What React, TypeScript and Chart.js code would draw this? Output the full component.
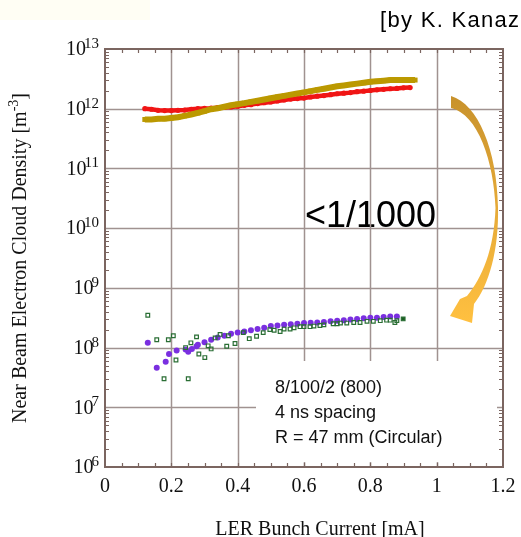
import React, { useEffect, useRef } from "react";
import { Chart, registerables } from "chart.js";

Chart.register(...registerables);

// ---------- data ----------
const X_TICKS = [0, 0.2, 0.4, 0.6, 0.8, 1, 1.2];
const X_TICK_LABELS = ["0", "0.2", "0.4", "0.6", "0.8", "1", "1.2"];
const Y_EXPONENTS = [6, 7, 8, 9, 10, 11, 12, 13];

const redX = [0.12, 0.14, 0.16, 0.18, 0.2, 0.22, 0.24, 0.26, 0.28, 0.3, 0.32, 0.34, 0.36, 0.38, 0.4, 0.42, 0.44, 0.46, 0.48, 0.5, 0.52, 0.54, 0.56, 0.58, 0.6, 0.62, 0.64, 0.66, 0.68, 0.7, 0.72, 0.74, 0.76, 0.78, 0.8, 0.82, 0.84, 0.86, 0.88, 0.9, 0.92];
const redY = [1.0e12, 0.98e12, 0.94e12, 0.93e12, 0.93e12, 0.94e12, 0.95e12, 0.98e12, 1.0e12, 1.01e12, 1.02e12, 1.04e12, 1.05e12, 1.07e12, 1.1e12, 1.14e12, 1.17e12, 1.22e12, 1.26e12, 1.3e12, 1.35e12, 1.4e12, 1.45e12, 1.48e12, 1.51e12, 1.57e12, 1.62e12, 1.66e12, 1.72e12, 1.78e12, 1.82e12, 1.86e12, 1.93e12, 1.97e12, 2.02e12, 2.07e12, 2.11e12, 2.16e12, 2.19e12, 2.24e12, 2.26e12];

const goldX = [0.12, 0.14, 0.16, 0.18, 0.2, 0.22, 0.24, 0.26, 0.28, 0.3, 0.32, 0.34, 0.36, 0.38, 0.4, 0.42, 0.44, 0.46, 0.48, 0.5, 0.52, 0.54, 0.56, 0.58, 0.6, 0.62, 0.64, 0.66, 0.68, 0.7, 0.72, 0.74, 0.76, 0.78, 0.8, 0.82, 0.84, 0.86, 0.88, 0.9, 0.92, 0.935];
const goldY = [6.6e11, 6.6e11, 6.8e11, 6.8e11, 7.0e11, 7.2e11, 7.6e11, 8.0e11, 8.5e11, 9.1e11, 9.8e11, 1.02e12, 1.08e12, 1.14e12, 1.19e12, 1.24e12, 1.3e12, 1.36e12, 1.43e12, 1.5e12, 1.57e12, 1.64e12, 1.72e12, 1.8e12, 1.88e12, 1.97e12, 2.07e12, 2.16e12, 2.26e12, 2.37e12, 2.45e12, 2.54e12, 2.63e12, 2.72e12, 2.82e12, 2.88e12, 2.95e12, 3.02e12, 3.02e12, 3.02e12, 3.02e12, 3.02e12];

const purpleX = [0.129, 0.156, 0.183, 0.193, 0.216, 0.243, 0.251, 0.262, 0.276, 0.28, 0.3, 0.32, 0.34, 0.36, 0.38, 0.4, 0.42, 0.44, 0.46, 0.48, 0.5, 0.52, 0.54, 0.56, 0.58, 0.6, 0.62, 0.64, 0.66, 0.68, 0.7, 0.72, 0.74, 0.76, 0.78, 0.8, 0.82, 0.84, 0.86, 0.88];
const purpleY = [1.2e8, 4.6e7, 5.8e7, 7.8e7, 8.9e7, 9.3e7, 8.5e7, 9.5e7, 1.05e8, 1.12e8, 1.23e8, 1.35e8, 1.48e8, 1.58e8, 1.7e8, 1.78e8, 1.86e8, 1.95e8, 2.04e8, 2.14e8, 2.29e8, 2.34e8, 2.4e8, 2.45e8, 2.51e8, 2.57e8, 2.6e8, 2.63e8, 2.69e8, 2.75e8, 2.82e8, 2.88e8, 2.95e8, 3.02e8, 3.09e8, 3.16e8, 3.16e8, 3.24e8, 3.31e8, 3.31e8];

const greenX = [0.129, 0.156, 0.178, 0.191, 0.206, 0.214, 0.243, 0.251, 0.259, 0.276, 0.283, 0.301, 0.311, 0.32, 0.332, 0.347, 0.367, 0.372, 0.392, 0.417, 0.435, 0.457, 0.477, 0.497, 0.51, 0.528, 0.54, 0.558, 0.57, 0.588, 0.6, 0.618, 0.63, 0.648, 0.66, 0.688, 0.7, 0.71, 0.729, 0.75, 0.769, 0.79, 0.809, 0.83, 0.849, 0.86, 0.874, 0.88, 0.899];
const greenY = [3.47e8, 1.35e8, 3.0e7, 1.35e8, 1.58e8, 6.2e7, 1.0e8, 3.0e7, 1.2e8, 1.51e8, 7.8e7, 6.8e7, 1.07e8, 9.5e7, 1.45e8, 1.66e8, 1.05e8, 1.58e8, 1.17e8, 1.78e8, 1.41e8, 1.55e8, 1.78e8, 2.0e8, 1.95e8, 1.86e8, 2.04e8, 2.04e8, 2.14e8, 2.24e8, 2.24e8, 2.24e8, 2.29e8, 2.34e8, 2.4e8, 2.51e8, 2.51e8, 2.57e8, 2.57e8, 2.63e8, 2.63e8, 2.75e8, 2.75e8, 2.82e8, 2.88e8, 2.88e8, 2.63e8, 2.82e8, 3.02e8];

const zip = (xs: number[], ys: number[]) => xs.map((x, i) => ({ x, y: ys[i] }));

const AXIS = "#7b6560";
const GRID = "#a09290";
const SERIF = "'Liberation Serif', 'Times New Roman', serif";
const SANS = "'Liberation Sans', Arial, Helvetica, sans-serif";

const deco = {
  id: "deco",
  beforeDatasetsDraw(chart: any) {
    const { ctx, chartArea: a, scales } = chart;
    const x = scales.x, y = scales.y;
    ctx.save();
    ctx.fillStyle = "#000";
    ctx.font = `36px ${SANS}`;
    ctx.textAlign = "left";
    ctx.textBaseline = "alphabetic";
    ctx.fillText("<1/1000", 305, 227);
    ctx.strokeStyle = GRID;
    ctx.lineWidth = 1.5;
    ctx.beginPath();
    X_TICKS.slice(1, -1).forEach((v) => {
      const px = Math.round(x.getPixelForValue(v)) + 0.5;
      ctx.moveTo(px, a.top);
      ctx.lineTo(px, a.bottom);
    });
    Y_EXPONENTS.slice(1, -1).forEach((e) => {
      const py = Math.round(y.getPixelForValue(Math.pow(10, e))) + 0.5;
      ctx.moveTo(a.left, py);
      ctx.lineTo(a.right, py);
    });
    ctx.stroke();
    ctx.fillStyle = "#fff";
    ctx.fillRect(256, 361, 241, 101);
    ctx.fillStyle = "#111";
    ctx.font = `18px ${SANS}`;
    ctx.fillText("8/100/2 (800)", 275, 393);
    ctx.fillText("4 ns spacing", 275, 418);
    ctx.fillText("R = 47 mm (Circular)", 275, 443);
    ctx.restore();
  },
  afterDraw(chart: any) {
    const { ctx, chartArea: a, scales } = chart;
    const x = scales.x, y = scales.y;
    ctx.save();
    ctx.strokeStyle = AXIS;
    ctx.lineWidth = 2;
    ctx.strokeRect(a.left, a.top, a.right - a.left, a.bottom - a.top);
    ctx.lineWidth = 1.2;
    ctx.beginPath();
    for (let v = 0.05; v < 1.2; v += 0.05) {
      const px = Math.round(x.getPixelForValue(v)) + 0.5;
      ctx.moveTo(px, a.bottom);
      ctx.lineTo(px, a.bottom - 4);
      ctx.moveTo(px, a.top);
      ctx.lineTo(px, a.top + 4);
    }
    for (let e = 6; e < 13; e++) {
      for (let k = 2; k <= 9; k++) {
        const py = Math.round(y.getPixelForValue(k * Math.pow(10, e))) + 0.5;
        ctx.moveTo(a.left, py);
        ctx.lineTo(a.left + 4, py);
        ctx.moveTo(a.right, py);
        ctx.lineTo(a.right - 4, py);
      }
    }
    ctx.stroke();
    ctx.fillStyle = "#111";
    ctx.font = `20px ${SERIF}`;
    ctx.textAlign = "center";
    ctx.textBaseline = "alphabetic";
    X_TICKS.forEach((v, i) => {
      ctx.fillText(X_TICK_LABELS[i], x.getPixelForValue(v), 492);
    });
    Y_EXPONENTS.forEach((e) => {
      const py = y.getPixelForValue(Math.pow(10, e));
      ctx.font = `15px ${SERIF}`;
      const es = String(e);
      const ew = ctx.measureText(es).width;
      ctx.textAlign = "right";
      ctx.textBaseline = "middle";
      ctx.fillText(es, 99, py - 5);
      ctx.font = `20px ${SERIF}`;
      ctx.fillText("10", 99 - ew + 2, py + 1);
    });
    ctx.font = `20px ${SERIF}`;
    ctx.textAlign = "center";
    ctx.textBaseline = "alphabetic";
    ctx.fillText("LER Bunch Current [mA]", 320, 535);
    ctx.save();
    ctx.translate(26, 258);
    ctx.rotate(-Math.PI / 2);
    const main = "Near Beam Electron Cloud Density [m";
    const sup = "-3";
    const close = "]";
    ctx.font = `20px ${SERIF}`;
    const w1 = ctx.measureText(main).width;
    const w3 = ctx.measureText(close).width;
    ctx.font = `14px ${SERIF}`;
    const w2 = ctx.measureText(sup).width;
    const total = w1 + w2 + w3;
    let sx = -total / 2;
    ctx.textAlign = "left";
    ctx.textBaseline = "alphabetic";
    ctx.font = `20px ${SERIF}`;
    ctx.fillText(main, sx, 0);
    sx += w1;
    ctx.font = `14px ${SERIF}`;
    ctx.fillText(sup, sx, -8);
    sx += w2;
    ctx.font = `20px ${SERIF}`;
    ctx.fillText(close, sx, 0);
    ctx.restore();
    ctx.font = `22px ${SANS}`;
    (ctx as any).letterSpacing = "1.3px";
    ctx.textAlign = "left";
    ctx.fillStyle = "#000";
    ctx.fillText("[by K. Kanazawa]", 380, 27);
    (ctx as any).letterSpacing = "0px";
    const g = ctx.createLinearGradient(0, 96, 0, 322);
    g.addColorStop(0, "#c8922c");
    g.addColorStop(0.5, "#e6aa38");
    g.addColorStop(1, "#ffc040");
    ctx.fillStyle = g;
    ctx.beginPath();
    ctx.moveTo(451, 96);
    ctx.bezierCurveTo(478, 104, 497, 150, 498, 207);
    ctx.bezierCurveTo(499, 250, 489, 285, 474, 304);
    ctx.lineTo(472, 323);
    ctx.lineTo(450, 316);
    ctx.lineTo(460, 299);
    ctx.lineTo(467, 296);
    ctx.bezierCurveTo(482, 278, 494, 250, 495.5, 208);
    ctx.bezierCurveTo(494, 162, 478, 114, 451, 108);
    ctx.closePath();
    ctx.fill();
    ctx.restore();
  },
};

export default function App() {
  const ref = useRef<HTMLCanvasElement | null>(null);
  useEffect(() => {
    if (!ref.current) return;
    const chart = new Chart(ref.current, {
      type: "scatter",
      data: {
        datasets: [
          {
            data: zip(goldX, goldY),
            showLine: true,
            borderColor: "#bb9900",
            borderWidth: 6,
            pointStyle: "rect",
            pointRadius: 3.5,
            pointBackgroundColor: "#bb9900",
            pointBorderWidth: 0,
          },
          {
            data: zip(redX, redY),
            showLine: true,
            borderColor: "#f01515",
            borderWidth: 4.5,
            pointStyle: "circle",
            pointRadius: 2.6,
            pointBackgroundColor: "#f01515",
            pointBorderWidth: 0,
          },
          {
            data: zip(greenX, greenY),
            pointStyle: "rect",
            pointRadius: 2.6,
            borderColor: "#2a6e34",
            pointBorderColor: "#2a6e34",
            pointBorderWidth: 1.2,
            pointBackgroundColor: (c: any) =>
              c.dataIndex === greenX.length - 1 ? "#1b5e22" : "rgba(0,0,0,0)",
          },
          {
            data: zip(purpleX, purpleY),
            pointStyle: "circle",
            pointRadius: 3,
            pointBackgroundColor: "#7a2fe0",
            pointBorderWidth: 0,
          },
        ],
      },
      options: {
        animation: false,
        responsive: false,
        devicePixelRatio: 1,
        layout: { padding: { left: 105, top: 49, right: 18, bottom: 70 } },
        plugins: { legend: { display: false }, tooltip: { enabled: false } },
        scales: {
          x: {
            type: "linear",
            min: 0,
            max: 1.2,
            ticks: { display: false },
            grid: { display: false, drawTicks: false },
            border: { display: false },
          },
          y: {
            type: "logarithmic",
            min: 1e6,
            max: 1e13,
            ticks: { display: false },
            grid: { display: false, drawTicks: false },
            border: { display: false },
          },
        },
      },
      plugins: [deco],
    } as any);
    return () => chart.destroy();
  }, []);
  return (
    <div style={{ position: "fixed", left: 0, top: 0, width: 521, height: 537, overflow: "hidden", background: "#fff" }}>
      <div style={{ position: "absolute", left: 0, top: 0, width: 150, height: 20, background: "#fffef4" }} />
      <canvas ref={ref} width={521} height={537} style={{ position: "absolute", left: 0, top: 0, width: 521, height: 537 }} />
    </div>
  );
}
